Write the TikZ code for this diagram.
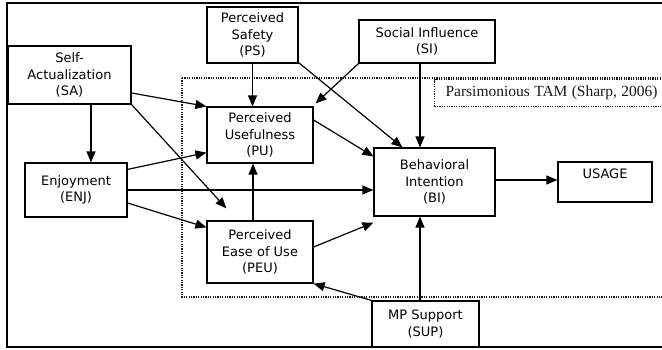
\documentclass[tikz,border=0pt]{standalone}
\usepackage{fontspec}
\setmainfont{DejaVu Sans}
\newfontfamily\tamfont{Liberation Serif}
\usetikzlibrary{arrows.meta, positioning}
\tikzset{
    block/.style={rectangle, draw, line width=1.2pt, fill=white, align=center, inner sep=0pt},
    line/.style={draw, line width=1.2pt, -{Triangle[length=11pt,width=9pt]}},
    region/.style={draw, line width=1.1pt, dash pattern=on 1.2pt off 1.2pt, black!90},
    every node/.style={font=\fontsize{13pt}{16.5pt}\selectfont}
}

\begin{document}
\begin{tikzpicture}[x=1pt, y=-1pt]
    \useasboundingbox (0,0) rectangle (662,349);

    % frame and TAM region
    \draw [line width=2pt] (664,3) -- (7,3) -- (7,347) -- (664,347);
    \draw [region] (182,78) rectangle (668,297);
    \node [region, rectangle, minimum width=240pt, minimum height=27pt, anchor=north west, inner xsep=11pt, text width=218pt, align=left] (tam) at (434,79) {\tamfont\fontsize{15.5pt}{17pt}\selectfont Parsimonious TAM (Sharp, 2006)};

    % external factors
    \node [block, minimum width=123pt, minimum height=58pt] (SA) at (69.5,75) {Self-\\Actualization\\(SA)};
    \node [block, minimum width=91pt, minimum height=56pt] (PS) at (252.5,35) {Perceived\\Safety\\(PS)};
    \node [block, minimum width=136pt, minimum height=43pt] (SI) at (427,41.5) {Social Influence\\(SI)};
    \node [block, minimum width=102pt, minimum height=54pt] (ENJ) at (76,190) {Enjoyment\\(ENJ)};
    \node [block, minimum width=107pt, minimum height=46pt] (SUP) at (425.5,324) {MP Support\\(SUP)};

    % TAM core
    \node [block, minimum width=106pt, minimum height=56pt] (PU) at (260,135) {Perceived\\Usefulness\\(PU)};
    \node [block, minimum width=106pt, minimum height=62pt] (PEU) at (260,252) {Perceived\\Ease of Use\\(PEU)};
    \node [block, minimum width=121pt, minimum height=68pt] (BI) at (434.5,182) {Behavioral\\Intention\\(BI)};
    \node [block, minimum width=94pt, minimum height=40pt] (USAGE) at (605,182) {USAGE\\\mbox{}};

    % paths
    \draw [line] ([yshift=-18pt]SA.east) -- (PU.north west);
    \draw [line] (SA.south east) -- ([xshift=20pt,yshift=12pt]PEU.north west);
    \draw [line] ([xshift=21.5pt]SA.south) -- ([xshift=21.5pt]SA.south |- ENJ.north);
    \draw [line] (PS.south) -- (PS.south |- PU.north);
    \draw [line] ([yshift=1pt]PS.south east) -- ([xshift=29pt]BI.north west);
    \draw [line] (SI.south west) -- ([shift={(2pt,3pt)}]PU.north east);
    \draw [line] ([xshift=-7pt]SI.south) -- ([xshift=-7pt]SI.south |- BI.north);
    \draw [line] ([yshift=15pt]PU.east) -- ([yshift=-9pt]BI.north west);
    \draw [line] ([yshift=-7pt]ENJ.north east) -- ([yshift=11pt]PU.south west);
    \draw [line] (ENJ.east) -- (ENJ.east -| BI.west);
    \draw [line] ([yshift=-13pt]ENJ.east) -- ([yshift=-7pt]PEU.north west);
    \draw [line] ([xshift=-7pt]PEU.north) -- ([xshift=-7pt]PEU.north |- PU.south);
    \draw [line] ([yshift=5pt]PEU.east) -- ([yshift=-6pt]BI.south west);
    \draw [line] (SUP.north west) -- (PEU.south east);
    \draw [line] ([xshift=-5.5pt]SUP.north) -- ([xshift=-5.5pt]SUP.north |- BI.south);
    \draw [line] ([yshift=2pt]BI.east) -- ([yshift=2pt]USAGE.west);

\end{tikzpicture}
\end{document}
